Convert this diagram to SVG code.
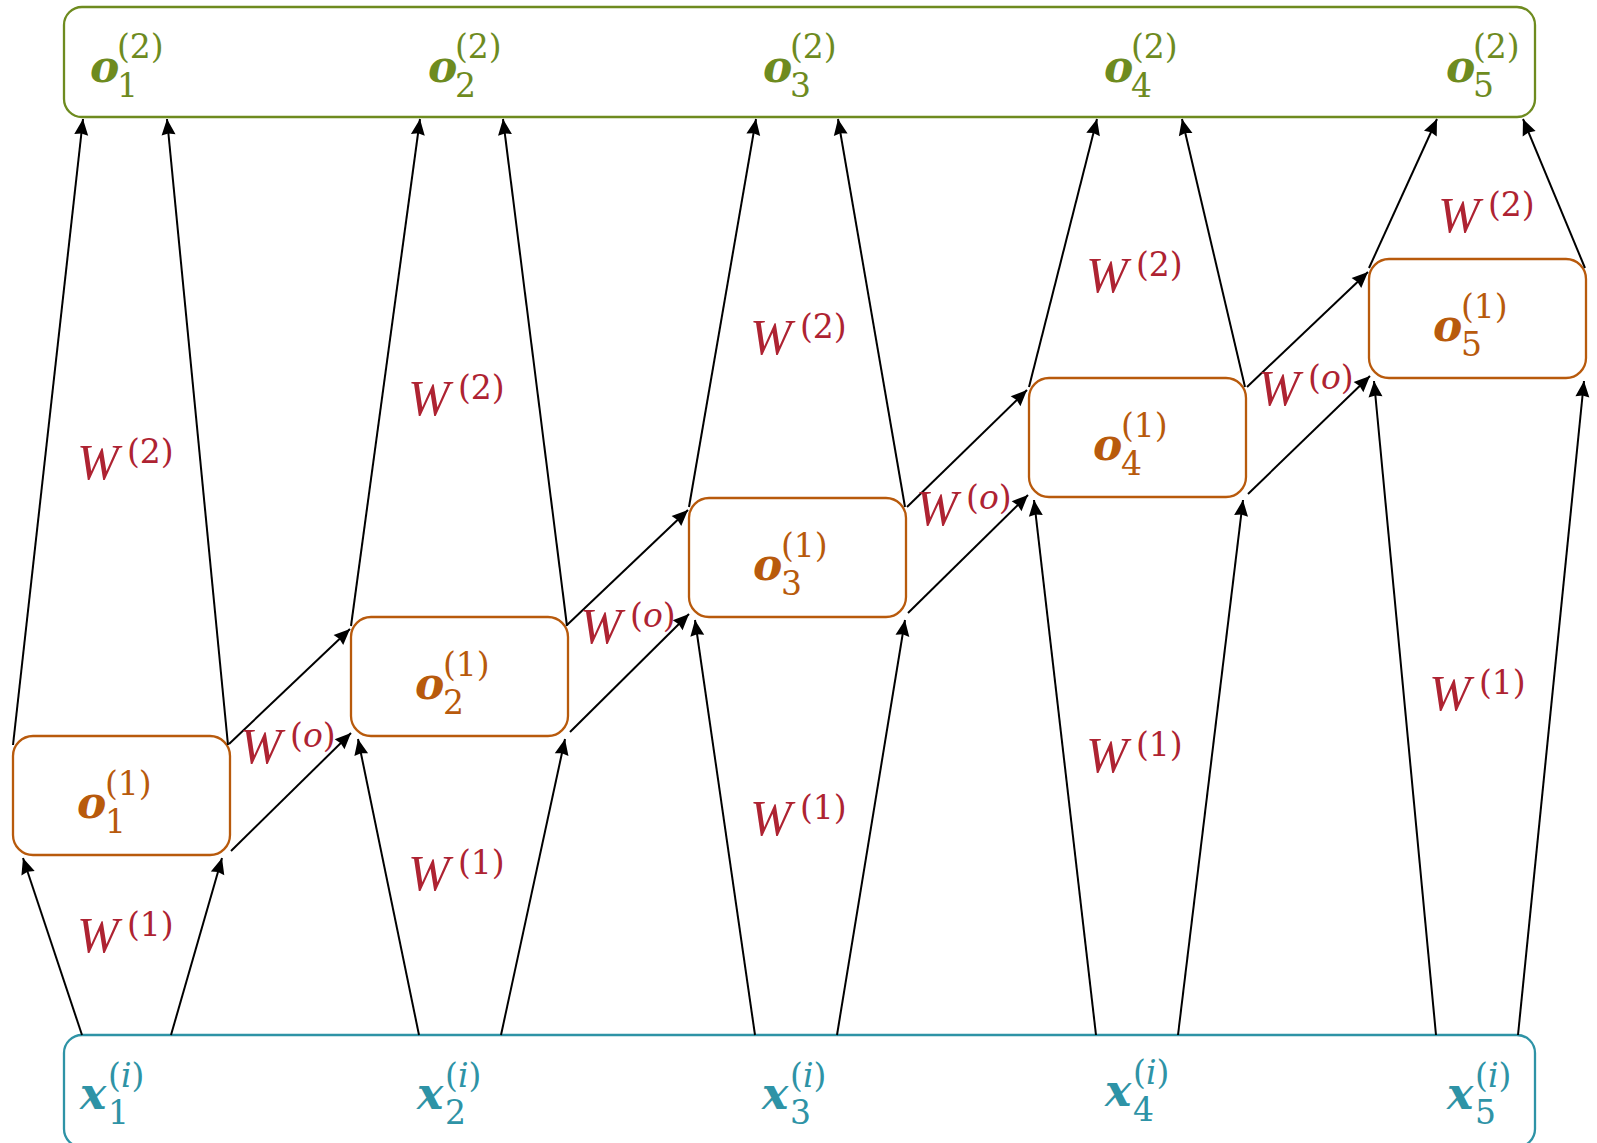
<svg xmlns="http://www.w3.org/2000/svg" width="1597" height="1143" viewBox="0 0 1597 1143">
<style>
.bx{fill:#fff;stroke-width:2.3}
.g{stroke:#6E8B1F}.gt{fill:#6E8B1F}
.or{stroke:#B85A0C}.ot{fill:#B85A0C}
.tl{stroke:#2E93A6}.tt{fill:#2E93A6}
.mo{font-family:"DejaVu Serif",serif;font-weight:bold;font-style:italic;font-size:44px}
.sc{font-family:"DejaVu Serif",serif;font-size:33px;font-weight:normal;font-style:normal}
.it{font-style:italic}
.w{font-family:"Liberation Serif",serif;font-style:italic;font-size:50px;fill:#AE2332}
.ws{font-family:"DejaVu Serif",serif;font-style:normal;font-size:33px}
.c line{stroke:#000;stroke-width:2;marker-end:url(#ah)}
</style>
<defs>
<marker id="ah" markerUnits="userSpaceOnUse" markerWidth="18" markerHeight="16" viewBox="-17 -8 18 16" refX="0" refY="0" orient="auto">
<path d="M0,0 L-16,-7 L-14.5,0 L-16,7 Z" fill="#000"/>
</marker>
</defs>

<g id="out2">
<rect class="bx g" x="64" y="7" width="1471" height="110" rx="18"/>
<g class="gt">
<text><tspan class="mo" x="90" y="82">o</tspan><tspan class="sc" x="117" y="97">1</tspan><tspan class="sc" x="117" y="58">(2)</tspan></text>
<text><tspan class="mo" x="428" y="82">o</tspan><tspan class="sc" x="455" y="97">2</tspan><tspan class="sc" x="455" y="58">(2)</tspan></text>
<text><tspan class="mo" x="763" y="82">o</tspan><tspan class="sc" x="790" y="97">3</tspan><tspan class="sc" x="790" y="58">(2)</tspan></text>
<text><tspan class="mo" x="1104" y="82">o</tspan><tspan class="sc" x="1131" y="97">4</tspan><tspan class="sc" x="1131" y="58">(2)</tspan></text>
<text><tspan class="mo" x="1446" y="82">o</tspan><tspan class="sc" x="1473" y="97">5</tspan><tspan class="sc" x="1473" y="58">(2)</tspan></text>
</g>
</g>

<g id="in">
<rect class="bx tl" x="64" y="1035" width="1471" height="112" rx="18"/>
<g class="tt">
<text><tspan class="mo" x="80" y="1109">x</tspan><tspan class="sc" x="108" y="1124">1</tspan><tspan class="sc" x="108" y="1087">(<tspan class="it">i</tspan>)</tspan></text>
<text><tspan class="mo" x="417" y="1109">x</tspan><tspan class="sc" x="445" y="1124">2</tspan><tspan class="sc" x="445" y="1087">(<tspan class="it">i</tspan>)</tspan></text>
<text><tspan class="mo" x="762" y="1109">x</tspan><tspan class="sc" x="790" y="1124">3</tspan><tspan class="sc" x="790" y="1087">(<tspan class="it">i</tspan>)</tspan></text>
<text><tspan class="mo" x="1105" y="1106">x</tspan><tspan class="sc" x="1133" y="1121">4</tspan><tspan class="sc" x="1133" y="1084">(<tspan class="it">i</tspan>)</tspan></text>
<text><tspan class="mo" x="1447" y="1109">x</tspan><tspan class="sc" x="1475" y="1124">5</tspan><tspan class="sc" x="1475" y="1087">(<tspan class="it">i</tspan>)</tspan></text>
</g>
</g>

<g id="h1"><rect class="bx or" x="13" y="736" width="217" height="119" rx="20"/>
<text class="ot"><tspan class="mo" x="77" y="818">o</tspan><tspan class="sc" x="105" y="833">1</tspan><tspan class="sc" x="105" y="795">(1)</tspan></text></g>
<g id="h2"><rect class="bx or" x="351" y="617" width="217" height="119" rx="20"/>
<text class="ot"><tspan class="mo" x="415" y="699">o</tspan><tspan class="sc" x="443" y="714">2</tspan><tspan class="sc" x="443" y="676">(1)</tspan></text></g>
<g id="h3"><rect class="bx or" x="689" y="498" width="217" height="119" rx="20"/>
<text class="ot"><tspan class="mo" x="753" y="580">o</tspan><tspan class="sc" x="781" y="595">3</tspan><tspan class="sc" x="781" y="557">(1)</tspan></text></g>
<g id="h4"><rect class="bx or" x="1029" y="378" width="217" height="119" rx="20"/>
<text class="ot"><tspan class="mo" x="1093" y="460">o</tspan><tspan class="sc" x="1121" y="475">4</tspan><tspan class="sc" x="1121" y="437">(1)</tspan></text></g>
<g id="h5"><rect class="bx or" x="1369" y="259" width="217" height="119" rx="20"/>
<text class="ot"><tspan class="mo" x="1433" y="341">o</tspan><tspan class="sc" x="1461" y="356">5</tspan><tspan class="sc" x="1461" y="318">(1)</tspan></text></g>

<g id="connectors" class="c">
<line x1="82" y1="1035" x2="23" y2="858"/>
<line x1="171" y1="1035" x2="222" y2="858"/>
<line x1="419" y1="1035" x2="358" y2="739"/>
<line x1="501" y1="1035" x2="565" y2="739"/>
<line x1="755" y1="1035" x2="695" y2="620"/>
<line x1="837" y1="1035" x2="905" y2="620"/>
<line x1="1096" y1="1035" x2="1034" y2="500"/>
<line x1="1178" y1="1035" x2="1243" y2="500"/>
<line x1="1436" y1="1035" x2="1374" y2="381"/>
<line x1="1518" y1="1035" x2="1584" y2="381"/>

<line x1="13" y1="745" x2="83" y2="119"/>
<line x1="228" y1="745" x2="167" y2="119"/>
<line x1="351" y1="626" x2="420" y2="119"/>
<line x1="567" y1="626" x2="503" y2="119"/>
<line x1="689" y1="507" x2="756" y2="119"/>
<line x1="905" y1="507" x2="838" y2="119"/>
<line x1="1029" y1="387" x2="1097" y2="119"/>
<line x1="1245" y1="387" x2="1182" y2="119"/>
<line x1="1369" y1="268" x2="1437" y2="119"/>
<line x1="1585" y1="268" x2="1523" y2="119"/>

<line x1="229" y1="744" x2="350" y2="629"/>
<line x1="567" y1="625" x2="688" y2="510"/>
<line x1="907" y1="507" x2="1027" y2="390"/>
<line x1="1247" y1="387" x2="1368" y2="272"/>
<line x1="231" y1="851" x2="351" y2="733"/>
<line x1="570" y1="732" x2="689" y2="614"/>
<line x1="908" y1="613" x2="1028" y2="495"/>
<line x1="1248" y1="494" x2="1370" y2="376"/>
</g>

<g id="labels">
<text class="w" x="77" y="479">W<tspan class="ws" x="127" y="463">(2)</tspan></text>
<text class="w" x="408" y="415">W<tspan class="ws" x="458" y="399">(2)</tspan></text>
<text class="w" x="750" y="354">W<tspan class="ws" x="800" y="338">(2)</tspan></text>
<text class="w" x="1086" y="292">W<tspan class="ws" x="1136" y="276">(2)</tspan></text>
<text class="w" x="1438" y="232">W<tspan class="ws" x="1488" y="216">(2)</tspan></text>

<text class="w" x="77" y="952">W<tspan class="ws" x="127" y="936">(1)</tspan></text>
<text class="w" x="408" y="890">W<tspan class="ws" x="458" y="874">(1)</tspan></text>
<text class="w" x="750" y="835">W<tspan class="ws" x="800" y="819">(1)</tspan></text>
<text class="w" x="1086" y="772">W<tspan class="ws" x="1136" y="756">(1)</tspan></text>
<text class="w" x="1429" y="710">W<tspan class="ws" x="1479" y="694">(1)</tspan></text>

<text class="w" x="240" y="763">W<tspan class="ws" x="290" y="747">(<tspan class="it">o</tspan>)</tspan></text>
<text class="w" x="580" y="643">W<tspan class="ws" x="630" y="627">(<tspan class="it">o</tspan>)</tspan></text>
<text class="w" x="916" y="525">W<tspan class="ws" x="966" y="509">(<tspan class="it">o</tspan>)</tspan></text>
<text class="w" x="1258" y="405">W<tspan class="ws" x="1308" y="389">(<tspan class="it">o</tspan>)</tspan></text>
</g>
</svg>
